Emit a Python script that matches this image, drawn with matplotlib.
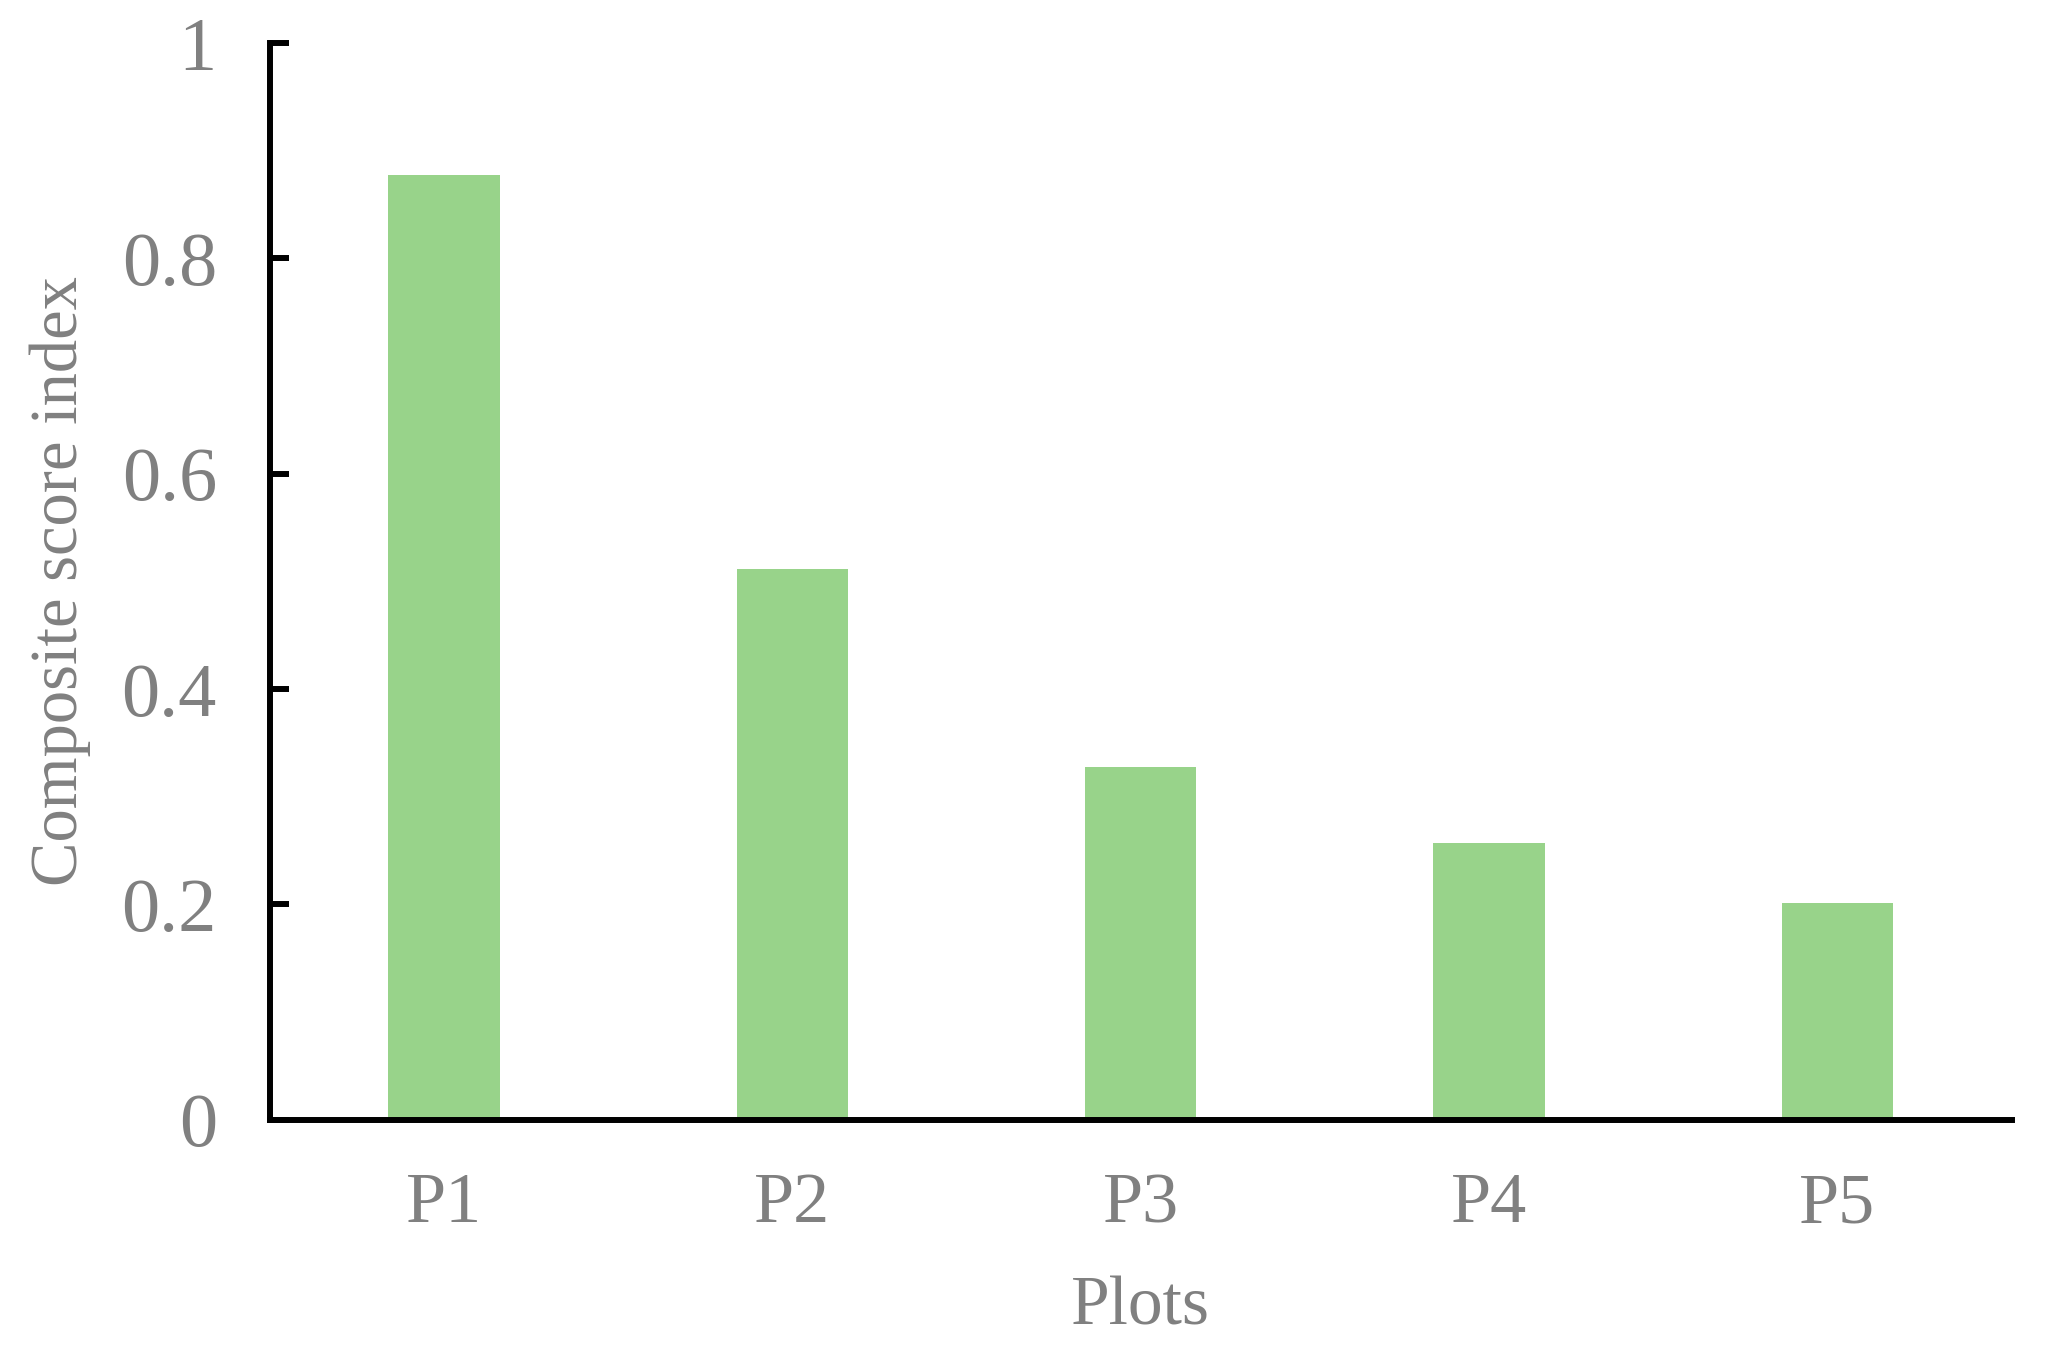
import matplotlib
matplotlib.use("Agg")
import matplotlib.pyplot as plt

plots = ["P1", "P2", "P3", "P4", "P5"]
scores = [0.878, 0.512, 0.328, 0.257, 0.201]
yticks = [0, 0.2, 0.4, 0.6, 0.8, 1]
ytick_labels = ["0", "0.2", "0.4", "0.6", "0.8", "1"]

plt.rcParams['font.family'] = ['Liberation Serif', 'DejaVu Serif']
grey = '#808080'

fig = plt.figure(figsize=(20.59, 13.49), dpi=100)
ax = fig.add_axes([0.131, 0.170, 0.846, 0.798])

x = range(len(plots))
ax.bar(x, scores, width=0.32, color='#98D38A')

ax.set_xlim(-0.5, 4.5)
ax.set_ylim(0, 1)
ax.set_xticks(list(x))
ax.set_xticklabels(plots)
ax.set_yticks(yticks)
ax.set_yticklabels(ytick_labels)

for s in ['top', 'right']:
    ax.spines[s].set_visible(False)
for s in ['left', 'bottom']:
    ax.spines[s].set_linewidth(4.3)
    ax.spines[s].set_color('black')

ax.tick_params(axis='y', direction='in', length=14, width=4.3, pad=38,
               labelsize=55, labelcolor=grey)
ax.tick_params(axis='x', length=0, pad=38, labelsize=52, labelcolor=grey)

ax.set_xlabel("Plots", fontsize=50, color=grey, labelpad=28)
ax.set_ylabel("Composite score index", fontsize=48, color=grey, labelpad=22)

fig.savefig("out.png", dpi=100)
